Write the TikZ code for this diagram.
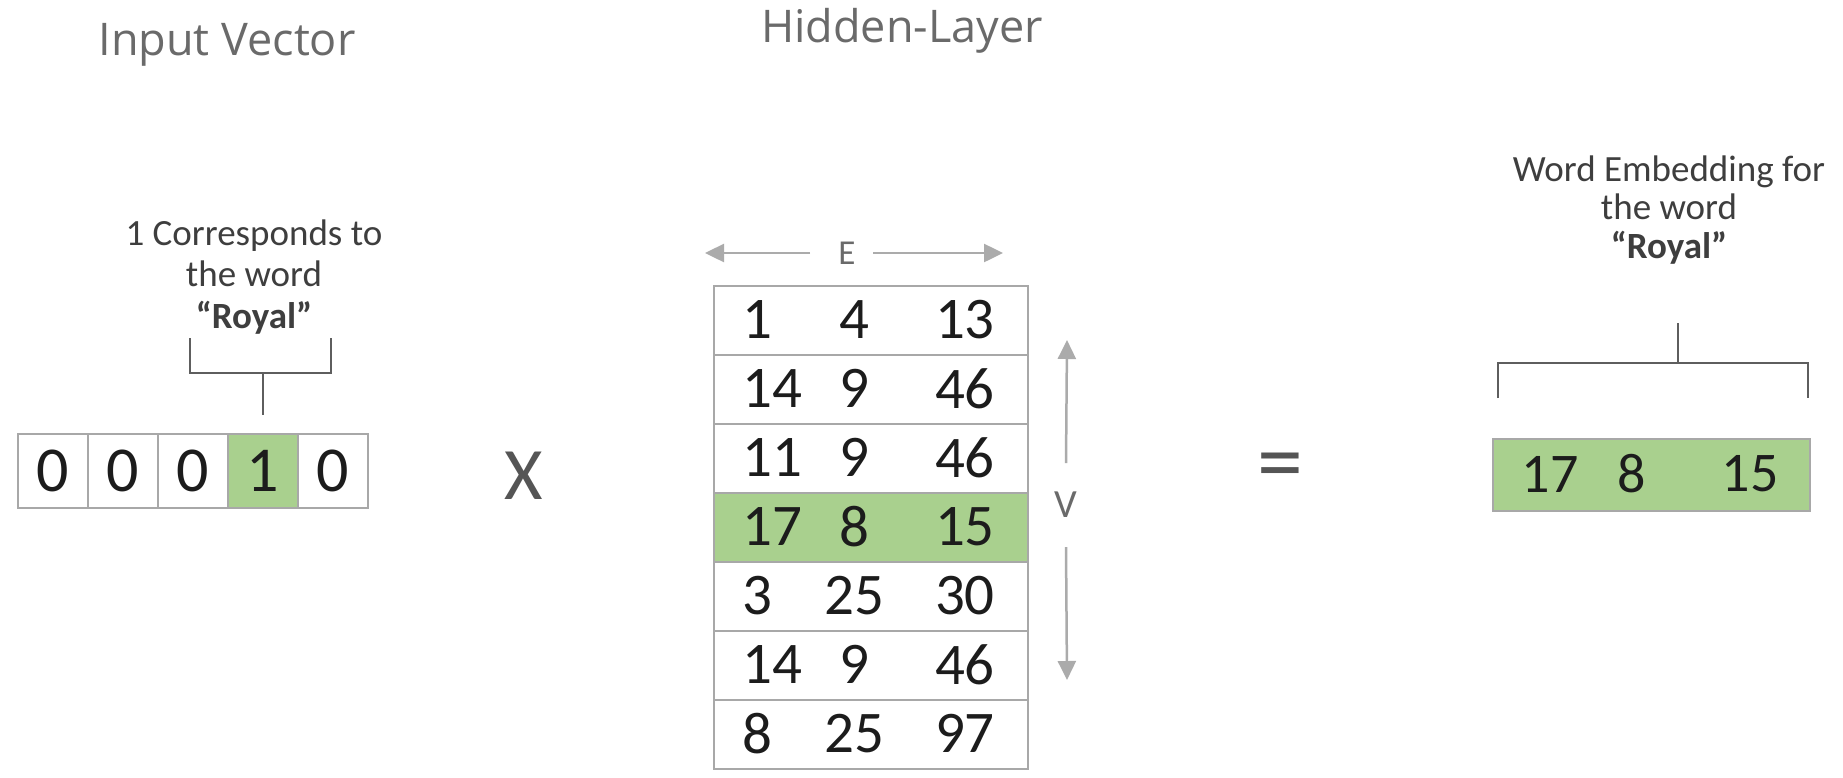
\documentclass[tikz,border=0pt]{standalone}
\usepackage{fontspec}
\setmainfont{Carlito}
\newfontfamily\titlefont{Open Sans}
\usetikzlibrary{arrows.meta}
\definecolor{cellgreen}{HTML}{A9D08E}
\definecolor{cellborder}{HTML}{A8A8A8}
\definecolor{titlegray}{HTML}{6A6A6A}
\definecolor{arrowgray}{HTML}{ABABAB}
\definecolor{bracketgray}{HTML}{5E5E5E}
\definecolor{textdark}{HTML}{1C1C1C}
\definecolor{signgray}{HTML}{555555}
\begin{document}
\begin{tikzpicture}[x=1pt,y=-1pt,
  incell/.style={draw=cellborder, line width=2pt, minimum width=70pt, minimum height=74pt,
     inner sep=0pt, anchor=north west, font=\fontsize{64}{64}\selectfont, text=textdark},
  rowbox/.style={draw=cellborder, line width=2pt, minimum width=314pt, minimum height=69pt,
     inner sep=0pt, anchor=north west},
  num/.style={inner sep=0pt, font=\fontsize{59}{59}\selectfont, text=textdark},
  outnum/.style={inner sep=0pt, font=\fontsize{56}{56}\selectfont, text=textdark},
  title/.style={inner sep=0pt, anchor=base, font=\titlefont\fontsize{45}{45}\selectfont, text=titlegray},
  lbl/.style={inner sep=0pt, align=center, text=textdark!85},
  brack/.style={draw=bracketgray, line width=2.5pt},
  dimarrow/.style={draw=arrowgray, line width=2.5pt, -{Triangle[length=19pt,width=18pt]}},
  sign/.style={inner sep=0pt, text=signgray}
]
\useasboundingbox (0,0) rectangle (1843,777);
\fill[white] (0,0) rectangle (1843,777);

% titles
\node[title] (tin) at (227,55) {Input Vector};
\node[title] (thid) at (902,42) {Hidden-Layer};

% input vector
\foreach \v [count=\i] in {0,0,0,1,0}{
  \ifnum\i=4
    \node[incell, fill=cellgreen] (in\i) at ({17+70*(\i-1)},433) {\v};
  \else
    \node[incell, fill=white] (in\i) at ({17+70*(\i-1)},433) {\v};
  \fi
}

% left bracket and label
\coordinate (lbl1) at (190,338);
\coordinate (lbl2) at (190,373);
\coordinate (lbr2) at (331,373);
\coordinate (lbr1) at (331,338);
\coordinate (lstem) at (in4.north |- lbl2);
\draw[brack] (lbl1) -- (lbl2) -- (lbr2) -- (lbr1);
\draw[brack] (lstem) -- ([yshift=18pt]in4.north);
\node[lbl, font=\fontsize{37}{41.5}\selectfont] (leftlabel) at (254,277)
  {1 Corresponds to\\the word\\\textbf{“Royal”}};

% multiply sign
\node[sign, font=\fontsize{74}{74}\selectfont] (times) at (524,476) {X};

% hidden layer matrix
\foreach \a/\b/\c [count=\i] in {1/4/13,14/9/46,11/9/46,17/8/15,3/25/30,14/9/46,8/25/97}{
  \ifnum\i=4
    \node[rowbox, fill=cellgreen] (row\i) at (713,{285+69*(\i-1)}) {};
  \else
    \node[rowbox, fill=white] (row\i) at (713,{285+69*(\i-1)}) {};
  \fi
  \node[num, anchor=west] (row\i a) at (742,{285+69*(\i-1)+34.5}) {\a};
  \node[num] (row\i b) at (854,{285+69*(\i-1)+34.5}) {\b};
  \node[num, anchor=east] (row\i c) at (995,{285+69*(\i-1)+34.5}) {\c};
}

% E arrow
\node[inner sep=0pt, font=\fontsize{35}{35}\selectfont, text=titlegray] (E) at (847,253) {E};
\coordinate (Eleft) at (705,253);
\coordinate (Eright) at (1003,253);
\draw[dimarrow] ([xshift=-37pt]E.center) -- (Eleft);
\draw[dimarrow] ([xshift=26pt]E.center) -- (Eright);

% V arrow
\node[inner sep=0pt, font=\fontsize{40}{40}\selectfont, text=titlegray] (V) at (1066,505) {V};
\coordinate (Vtop) at (1067,340);
\coordinate (Vbot) at (1067,680);
\draw[dimarrow] ([yshift=42pt]V.center) -- (Vtop);
\draw[dimarrow] ([yshift=-42pt]V.center) -- (Vbot);

% equals sign
\node[sign, font=\fontsize{92}{92}\selectfont] (eq) at (1280,473) {=};

% output vector
\node[draw=cellborder, line width=2pt, fill=cellgreen, minimum width=317pt, minimum height=72pt,
      inner sep=0pt, anchor=north west] (outv) at (1492,438) {};
\node[outnum] (o1) at (1550,474) {17};
\node[outnum] (o2) at (1632,474) {8};
\node[outnum] (o3) at (1750,474) {15};

% right bracket and label
\coordinate (rbl1) at (1498,398);
\coordinate (rbl2) at (1498,363);
\coordinate (rbr2) at (1808,363);
\coordinate (rbr1) at (1808,398);
\coordinate (rstemb) at (1678,363);
\coordinate (rstemt) at (1678,323);
\draw[brack] (rbl1) -- (rbl2) -- (rbr2) -- (rbr1);
\draw[brack] (rstemb) -- (rstemt);
\node[lbl, font=\fontsize{37}{38.5}\selectfont] (rightlabel) at (1669,210)
  {Word Embedding for\\the word\\\textbf{“Royal”}};
\end{tikzpicture}
\end{document}
